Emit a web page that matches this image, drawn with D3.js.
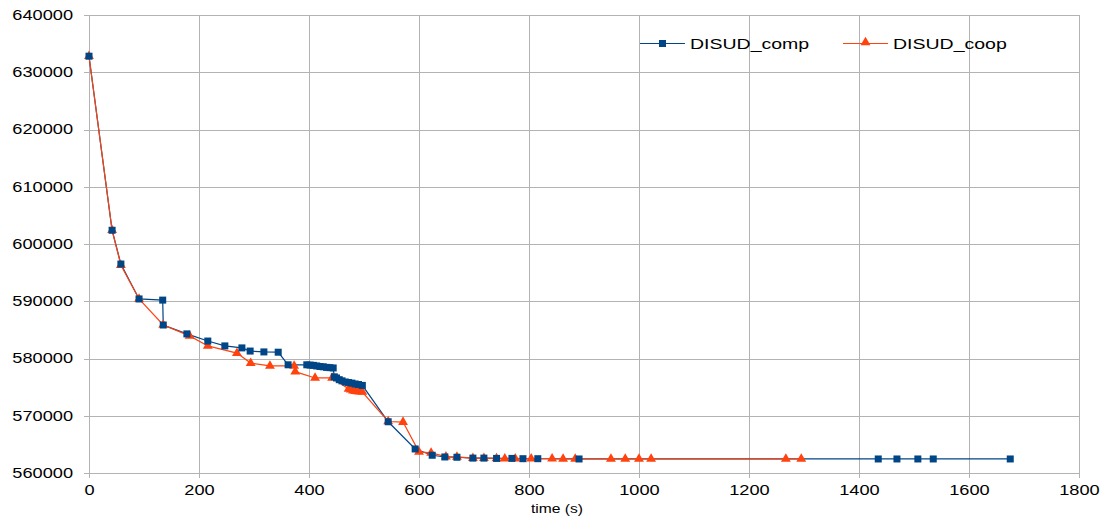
<!DOCTYPE html>
<html>
<head>
<meta charset="utf-8">
<script src="https://cdn.jsdelivr.net/npm/d3@7"></script>
<style>
  body { margin: 0; background: #fff; }
  svg { font-family: "Liberation Sans", Arial, sans-serif; }
</style>
</head>
<body>
<svg id="chart" width="1109" height="516"></svg>
<script>
// time (s) and objective values
const compTime = [0, 42, 58, 91, 134, 135, 178, 216, 247, 278, 293, 318, 344, 362,
  396, 402, 408, 414, 420, 426, 432, 438, 444,
  446, 450, 455, 460, 466, 472, 478, 484, 490, 497,
  544, 593, 624, 647, 669, 698, 718, 741, 769, 789, 816, 891,
  1435, 1469, 1507, 1535, 1675];
const compVal = [632800, 602400, 596500, 590400, 590200, 585850, 584300, 583050, 582200, 581850, 581300, 581150, 581100, 578900,
  578900, 578850, 578800, 578700, 578600, 578550, 578450, 578400, 578350,
  576800, 576600, 576300, 576100, 575900, 575800, 575700, 575550, 575450, 575300,
  568950, 564200, 563100, 562800, 562750, 562600, 562600, 562550, 562550, 562500, 562500, 562450,
  562450, 562450, 562450, 562450, 562450];

const coopTime = [0, 42, 58, 91, 135, 183, 216, 269, 294, 329, 373, 375, 411, 442,
  472, 476, 480, 484, 488, 492, 497,
  544, 571, 600, 622, 649, 669, 698, 718, 741, 756, 775, 804, 842, 862, 884,
  949, 975, 1000, 1022, 1267, 1295];
const coopVal = [632800, 602400, 596300, 590400, 585850, 583950, 582200, 580950, 579200, 578700, 578700, 577700, 576600, 576600,
  574700, 574550, 574400, 574300, 574250, 574200, 574150,
  569000, 568900, 563700, 563500, 562850, 562800, 562600, 562600, 562550, 562500, 562500, 562500, 562500, 562450, 562450,
  562450, 562450, 562450, 562450, 562450, 562450];

const xTicks = d3.range(0, 1801, 200);
const yTicks = d3.range(560000, 640001, 10000);
const seriesNames = ['DISUD_comp', 'DISUD_coop'];
const seriesColors = ['#004586', '#ff420e'];

const svg = d3.select('#chart');
const margin = { left: 89, top: 15, right: 30, bottom: 43 };
const width = 1109;
const height = 516;
const stretch = 1.3; // the original text is drawn wide

const x = d3.scaleLinear().domain([0, 1800]).range([margin.left, width - margin.right]);
const y = d3.scaleLinear().domain([560000, 640000]).range([height - margin.bottom, margin.top]);

function widen(sel) {
  sel.each(function() {
    const w = this.getComputedTextLength();
    d3.select(this).attr('textLength', w * stretch).attr('lengthAdjust', 'spacingAndGlyphs');
  });
}

// grid
svg.append('g')
  .selectAll('line.h')
  .data(yTicks)
  .join('line')
  .attr('x1', margin.left - 5)
  .attr('x2', x(1800))
  .attr('y1', d => Math.round(y(d)) + 0.5)
  .attr('y2', d => Math.round(y(d)) + 0.5)
  .attr('stroke', '#b3b3b3');

svg.append('g')
  .selectAll('line.v')
  .data(xTicks)
  .join('line')
  .attr('x1', d => Math.round(x(d)) + 0.5)
  .attr('x2', d => Math.round(x(d)) + 0.5)
  .attr('y1', y(640000))
  .attr('y2', y(560000) + 5)
  .attr('stroke', '#b3b3b3');

// axis labels
const yAxis = d3.axisLeft(y).tickValues(yTicks).tickFormat(d3.format('d')).tickSize(0).tickPadding(16);
svg.append('g')
  .attr('transform', `translate(${margin.left},0)`)
  .call(yAxis)
  .call(g => g.select('.domain').remove())
  .call(g => g.selectAll('text').attr('font-size', 14).attr('fill', '#000')
    .attr('font-family', '"Liberation Sans", Arial, sans-serif').call(widen));

const xAxis = d3.axisBottom(x).tickValues(xTicks).tickFormat(d3.format('d')).tickSize(0).tickPadding(12);
svg.append('g')
  .attr('transform', `translate(0,${y(560000)})`)
  .call(xAxis)
  .call(g => g.select('.domain').remove())
  .call(g => g.selectAll('text').attr('font-size', 14).attr('fill', '#000')
    .attr('font-family', '"Liberation Sans", Arial, sans-serif').call(widen));

svg.append('text')
  .attr('x', 557)
  .attr('y', 513)
  .attr('text-anchor', 'middle')
  .attr('font-size', 12)
  .text('time (s)')
  .call(widen);

// series
const line = d3.line().x(d => x(d[0])).y(d => y(d[1]));
const comp = compTime.map((t, i) => [t, compVal[i]]);
const coop = coopTime.map((t, i) => [t, coopVal[i]]);

svg.append('path')
  .datum(comp)
  .attr('d', line)
  .attr('fill', 'none')
  .attr('stroke', seriesColors[0])
  .attr('stroke-width', 1.2);

svg.append('path')
  .datum(coop)
  .attr('d', line)
  .attr('fill', 'none')
  .attr('stroke', seriesColors[1])
  .attr('stroke-width', 1.2);

const tri = d3.symbol().type(d3.symbolTriangle).size(42);

svg.append('g')
  .selectAll('path')
  .data(coop)
  .join('path')
  .attr('d', tri)
  .attr('transform', d => `translate(${x(d[0])},${y(d[1])})`)
  .attr('fill', seriesColors[1]);

svg.append('g')
  .selectAll('rect')
  .data(comp)
  .join('rect')
  .attr('x', d => x(d[0]) - 3.5)
  .attr('y', d => y(d[1]) - 3.5)
  .attr('width', 7)
  .attr('height', 7)
  .attr('fill', seriesColors[0]);

// legend
const legend = svg.append('g');
const legendX = [640, 843];
seriesNames.forEach((name, i) => {
  const lx = legendX[i];
  legend.append('line')
    .attr('x1', lx).attr('x2', lx + 45)
    .attr('y1', 43.5).attr('y2', 43.5)
    .attr('stroke', seriesColors[i]).attr('stroke-width', 1.2);
  if (i === 0) {
    legend.append('rect')
      .attr('x', lx + 19).attr('y', 40)
      .attr('width', 7).attr('height', 7)
      .attr('fill', seriesColors[i]);
  } else {
    legend.append('path')
      .attr('d', tri)
      .attr('transform', `translate(${lx + 22.5},42.5)`)
      .attr('fill', seriesColors[i]);
  }
  legend.append('text')
    .attr('x', lx + 50)
    .attr('y', 49)
    .attr('font-size', 15)
    .text(name)
    .call(widen);
});
</script>
</body>
</html>
